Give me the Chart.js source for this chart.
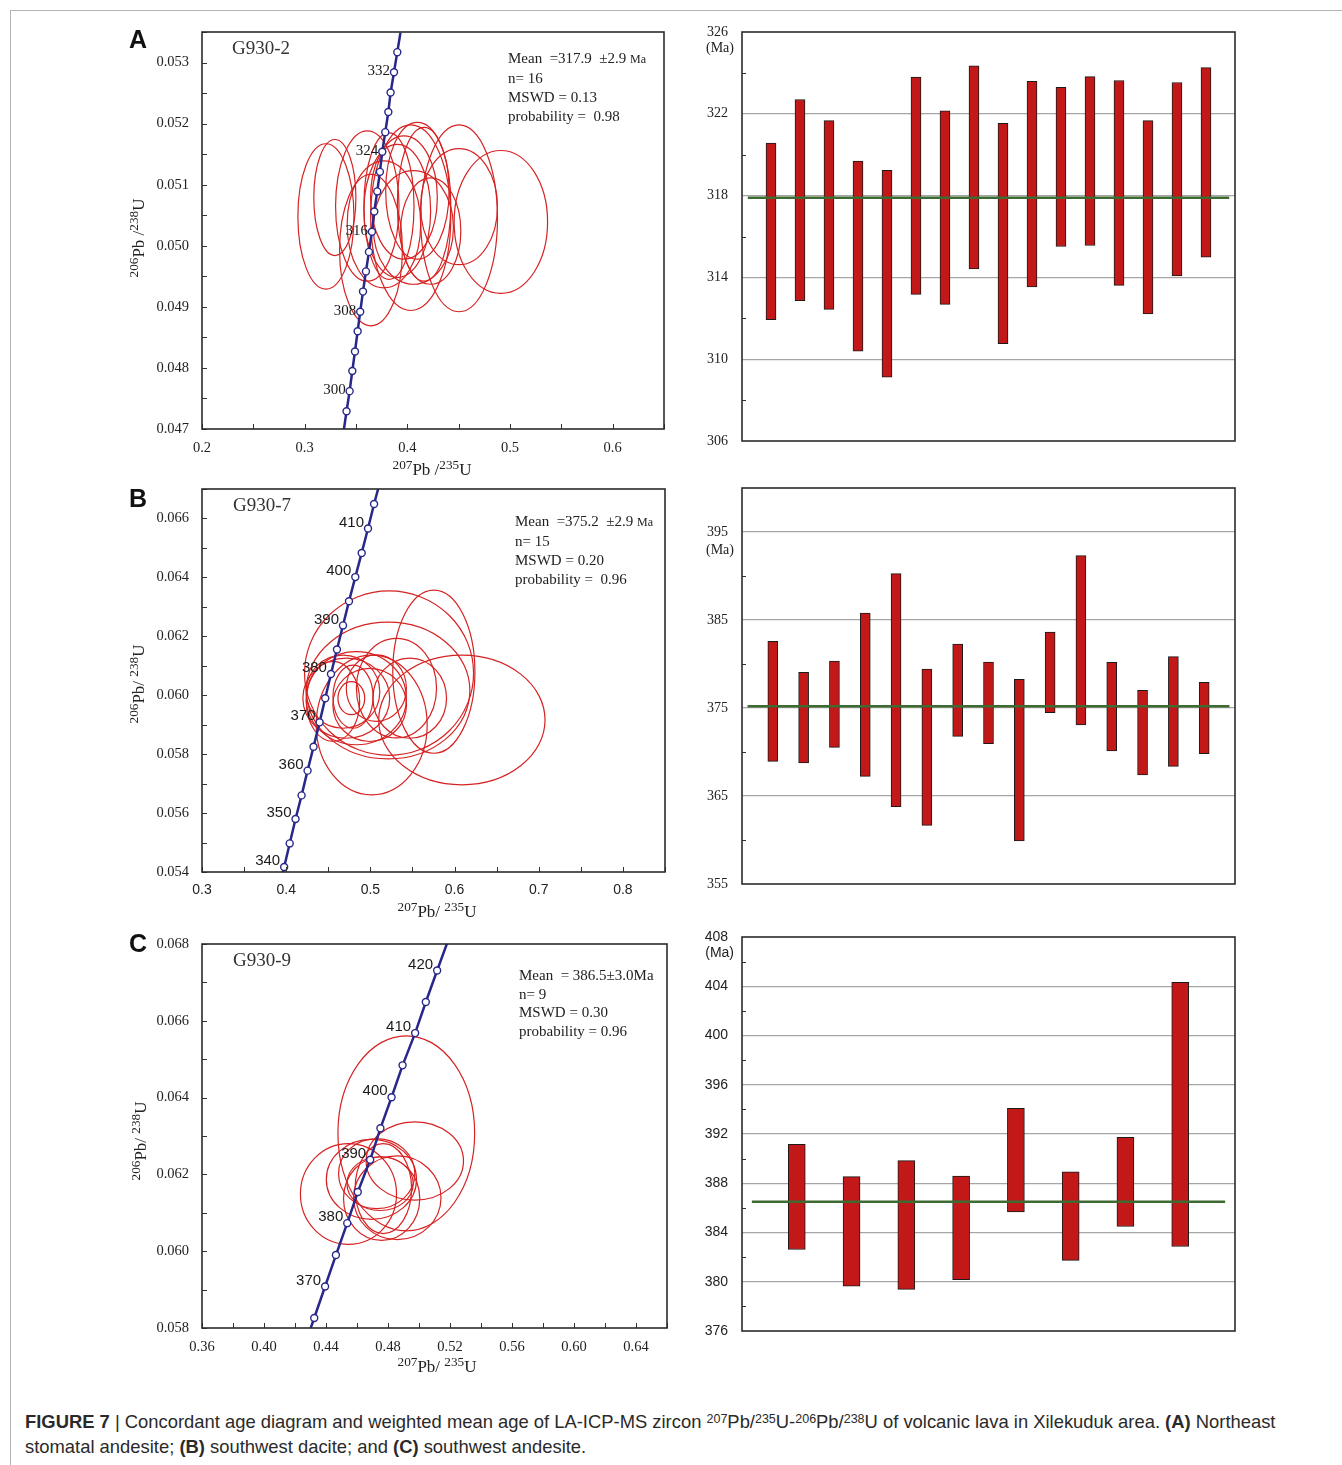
<!DOCTYPE html>
<html>
<head>
<meta charset="utf-8">
<title>Figure 7</title>
<script src="https://cdn.jsdelivr.net/npm/chart.js@4.4.1/dist/chart.umd.min.js"></script>
<style>
  html, body { margin: 0; padding: 0; background: #fff; }
  body { position: relative; width: 1342px; height: 1465px; overflow: hidden; font-family: "Liberation Serif", "Times New Roman", serif; color: #222; }
  .rule-top { position: absolute; left: 10px; top: 10px; width: 1332px; border-top: 1px solid #b5b5b5; }
  .rule-left { position: absolute; left: 10px; top: 10px; height: 1455px; border-left: 1px solid #b5b5b5; }
  canvas { position: absolute; }
  .letter { position: absolute; font: bold 25px "Liberation Sans", Arial, sans-serif; color: #111; line-height: 1; }
  .sample { position: absolute; font-size: 19px; line-height: 1; color: #333; }
  .stats { position: absolute; font-size: 15px; line-height: 19px; white-space: pre; color: #222; }
  .stats small { font-size: 12px; }
  .xt, .yt { position: absolute; font-size: 17px; line-height: 1; white-space: nowrap; color: #222; }
  .xt { transform: translate(-50%, -50%); }
  .yt { transform: translate(-50%, -50%) rotate(-90deg); }
  sup { font-size: 0.78em; vertical-align: 0.4em; line-height: 0; }
  .caption { position: absolute; left: 25px; top: 1409px; font: 18.4px "Liberation Sans", Arial, sans-serif; line-height: 25px; color: #2a2a2a; white-space: nowrap; }
  .caption sup { font-size: 0.68em; }
</style>
</head>
<body>
<div class="rule-top"></div>
<div class="rule-left"></div>

<canvas id="concA" width="545" height="488" style="left:140px;top:2px"></canvas>
<canvas id="barsA" width="570" height="469" style="left:680px;top:2px"></canvas>
<canvas id="concB" width="545" height="469" style="left:140px;top:459px"></canvas>
<canvas id="barsB" width="570" height="456" style="left:680px;top:458px"></canvas>
<canvas id="concC" width="545" height="458" style="left:140px;top:914px"></canvas>
<canvas id="barsC" width="570" height="454" style="left:680px;top:907px"></canvas>

<div class="letter" style="left:129px;top:27px">A</div>
<div class="letter" style="left:129px;top:486px">B</div>
<div class="letter" style="left:129px;top:931px">C</div>

<div class="sample" style="left:232px;top:38px">G930-2</div>
<div class="sample" style="left:233px;top:495px">G930-7</div>
<div class="sample" style="left:233px;top:950px">G930-9</div>

<div class="stats" style="left:508px;top:49px">Mean  =317.9  ±2.9 <small>Ma</small>
n= 16
MSWD = 0.13
probability =  0.98</div>
<div class="stats" style="left:515px;top:512px">Mean  =375.2  ±2.9 <small>Ma</small>
n= 15
MSWD = 0.20
probability =  0.96</div>
<div class="stats" style="left:519px;top:966px;line-height:18.7px">Mean  = 386.5±3.0Ma
n= 9
MSWD = 0.30
probability = 0.96</div>

<div class="xt" style="left:432px;top:469px"><sup>207</sup>Pb /<sup>235</sup>U</div>
<div class="yt" style="left:138px;top:238px"><sup>206</sup>Pb /<sup>238</sup>U</div>
<div class="xt" style="left:437px;top:911px"><sup>207</sup>Pb/ <sup>235</sup>U</div>
<div class="yt" style="left:138px;top:684px"><sup>206</sup>Pb/ <sup>238</sup>U</div>
<div class="xt" style="left:437px;top:1366px"><sup>207</sup>Pb/ <sup>235</sup>U</div>
<div class="yt" style="left:140px;top:1141px"><sup>206</sup>Pb/ <sup>238</sup>U</div>

<div class="caption"><b>FIGURE 7</b> | Concordant age diagram and weighted mean age of LA-ICP-MS zircon <sup>207</sup>Pb/<sup>235</sup>U-<sup>206</sup>Pb/<sup>238</sup>U of volcanic lava in Xilekuduk area. <b>(A)</b> Northeast<br>stomatal andesite; <b>(B)</b> southwest dacite; and <b>(C)</b> southwest andesite.</div>

<script>
// concordia curve markers (Ma) and their ratios
const agesA = [296, 298, 300, 302, 304, 306, 308, 310, 312, 314, 316, 318, 320, 322, 324, 326, 328, 330, 332, 334, 336];
const curveXA = [0.3380, 0.3408, 0.3438, 0.3464, 0.3490, 0.3516, 0.3541, 0.3568, 0.3597, 0.3626, 0.3655, 0.3678, 0.3707, 0.3733, 0.3756, 0.3785, 0.3815, 0.3837, 0.3870, 0.3902, 0.3933];
const curveYA = [0.04697, 0.04729, 0.04762, 0.04795, 0.04827, 0.04860, 0.04892, 0.04925, 0.04958, 0.04990, 0.05023, 0.05056, 0.05089, 0.05121, 0.05154, 0.05186, 0.05219, 0.05251, 0.05284, 0.05317, 0.05349];
const labelAgesA = [300, 308, 316, 324, 332];

const agesB = [335, 340, 345, 350, 355, 360, 365, 370, 375, 380, 385, 390, 395, 400, 405, 410, 415, 420];
const curveXB = [0.3911, 0.3976, 0.4042, 0.4111, 0.4183, 0.4254, 0.4325, 0.4397, 0.4464, 0.4532, 0.4603, 0.4675, 0.4746, 0.4821, 0.4897, 0.4972, 0.5044, 0.5121];
const curveYB = [0.05336, 0.05417, 0.05497, 0.05580, 0.05660, 0.05744, 0.05825, 0.05908, 0.05990, 0.06072, 0.06155, 0.06237, 0.06319, 0.06401, 0.06483, 0.06566, 0.06649, 0.06731];
const labelAgesB = [340, 350, 360, 370, 380, 390, 400, 410];

const agesC = [360, 365, 370, 375, 380, 385, 390, 395, 400, 405, 410, 415, 420, 425];
const curveXC = [0.4253, 0.4324, 0.4394, 0.4464, 0.4537, 0.4605, 0.4685, 0.4751, 0.4823, 0.4894, 0.4975, 0.5044, 0.5117, 0.5192];
const curveYC = [0.05744, 0.05826, 0.05908, 0.05990, 0.06073, 0.06154, 0.06238, 0.06320, 0.06401, 0.06484, 0.06568, 0.06649, 0.06731, 0.06814];
const labelAgesC = [370, 380, 390, 400, 410, 420];

// error ellipses: centre and half-widths in ratio units
const ellCxA = [0.3207, 0.3294, 0.3610, 0.3646, 0.3821, 0.3902, 0.4033, 0.4098, 0.4059, 0.3967, 0.4163, 0.4504, 0.4504, 0.4911, 0.3772, 0.4228];
const ellCyA = [0.05048, 0.05079, 0.05065, 0.04993, 0.05065, 0.05057, 0.05046, 0.05090, 0.05030, 0.05079, 0.05068, 0.05045, 0.05064, 0.05039, 0.05035, 0.05024];
const ellSxA = [0.0273, 0.0205, 0.0309, 0.0306, 0.0244, 0.0325, 0.0390, 0.0309, 0.0390, 0.0325, 0.0260, 0.0374, 0.0374, 0.0455, 0.0358, 0.0293];
const ellSyA = [0.00119, 0.00095, 0.00123, 0.00124, 0.00120, 0.00109, 0.00152, 0.00112, 0.00093, 0.00101, 0.00126, 0.00153, 0.00095, 0.00117, 0.00104, 0.00087];

const ellCxB = [0.6087, 0.5754, 0.5222, 0.5210, 0.5016, 0.4794, 0.4774, 0.4714, 0.4833, 0.4675, 0.4992, 0.5468, 0.5310, 0.4556, 0.5071];
const ellCyB = [0.05916, 0.06080, 0.06075, 0.06016, 0.05899, 0.05995, 0.05990, 0.05990, 0.05990, 0.06012, 0.05967, 0.05990, 0.06024, 0.05979, 0.06024];
const ellSxB = [0.0988, 0.0488, 0.1004, 0.0972, 0.0659, 0.0238, 0.0159, 0.0516, 0.0595, 0.0437, 0.0437, 0.0437, 0.0476, 0.0317, 0.0357];
const ellSyB = [0.00220, 0.00277, 0.00279, 0.00232, 0.00237, 0.00107, 0.00056, 0.00136, 0.00158, 0.00124, 0.00124, 0.00136, 0.00169, 0.00136, 0.00113];

const ellCxC = [0.4918, 0.4973, 0.4545, 0.4693, 0.4759, 0.4860, 0.4749, 0.4770, 0.4727];
const ellCyC = [0.06307, 0.06235, 0.06149, 0.06187, 0.06137, 0.06139, 0.06176, 0.06163, 0.06202];
const ellSxC = [0.0441, 0.0314, 0.0310, 0.0291, 0.0246, 0.0282, 0.0214, 0.0182, 0.0246];
const ellSyC = [0.00254, 0.00102, 0.00131, 0.00104, 0.00109, 0.00109, 0.00070, 0.00117, 0.00091];

// weighted mean plots: age ranges (Ma) per spot
const hiA = [320.57, 322.70, 321.67, 319.69, 319.24, 323.79, 322.15, 324.34, 321.53, 323.59, 323.30, 323.82, 323.63, 321.67, 323.53, 324.26];
const loA = [311.93, 312.86, 312.44, 310.39, 309.12, 313.17, 312.68, 314.41, 310.76, 313.53, 315.51, 315.56, 313.61, 312.21, 314.07, 314.99];
const meanA = 317.9;

const hiB = [382.58, 379.05, 380.34, 385.80, 390.27, 379.43, 382.27, 380.23, 378.26, 383.64, 392.31, 380.19, 377.01, 380.83, 377.92];
const loB = [368.94, 368.75, 370.53, 367.23, 363.79, 361.67, 371.78, 370.95, 359.89, 374.47, 373.07, 370.11, 367.39, 368.37, 369.81];
const meanB = 375.2;

const hiC = [391.16, 388.54, 389.84, 388.59, 394.08, 388.92, 391.73, 404.32];
const loC = [382.62, 379.65, 379.38, 380.16, 385.68, 381.73, 384.49, 382.86];
const meanC = 386.5;

const NAVY = '#27288a';
const ELL_RED = '#d62222';
const BAR_RED = '#c21818';
const GREEN = '#3d6b32';
const SERIF = '"Liberation Serif", "Times New Roman", serif';
const SANS = '"Liberation Sans", Arial, sans-serif';

function isMultiple(v, step) {
  const q = v / step;
  return Math.abs(q - Math.round(q)) < 1e-6;
}

function ellipsePlugin(cx, cy, sx, sy) {
  return {
    id: 'ellipses',
    beforeDatasetsDraw(chart) {
      const { ctx, chartArea: a } = chart;
      const xs = chart.scales.x, ys = chart.scales.y;
      ctx.save();
      ctx.beginPath();
      ctx.rect(a.left, a.top, a.right - a.left, a.bottom - a.top);
      ctx.clip();
      ctx.strokeStyle = ELL_RED;
      ctx.lineWidth = 1.2;
      cx.forEach((c, i) => {
        const px = xs.getPixelForValue(c);
        const py = ys.getPixelForValue(cy[i]);
        const rx = Math.abs(xs.getPixelForValue(c + sx[i]) - px);
        const ry = Math.abs(ys.getPixelForValue(cy[i] + sy[i]) - py);
        ctx.beginPath();
        ctx.ellipse(px, py, rx, ry, 0, 0, Math.PI * 2);
        ctx.stroke();
      });
      ctx.restore();
    }
  };
}

function framePlugin(o) {
  return {
    id: 'frame',
    afterDatasetsDraw(chart) {
      const { ctx, chartArea: a } = chart;
      ctx.save();
      ctx.strokeStyle = '#333';
      ctx.lineWidth = 1;
      if (o.xTick) {
        chart.scales.x.ticks.forEach(t => {
          const p = Math.round(chart.scales.x.getPixelForValue(t.value)) + 0.5;
          ctx.beginPath(); ctx.moveTo(p, a.bottom); ctx.lineTo(p, a.bottom - o.xTick); ctx.stroke();
        });
      }
      if (o.yTick) {
        const s = chart.scales.y;
        s.ticks.forEach(t => {
          if (o.minorOnly && (t.label !== '' || t.value === s.min || t.value === s.max)) return;
          const p = Math.round(s.getPixelForValue(t.value)) + 0.5;
          ctx.beginPath(); ctx.moveTo(a.left, p); ctx.lineTo(a.left + o.yTick, p); ctx.stroke();
        });
      }
      ctx.strokeStyle = '#2b2b2b';
      ctx.lineWidth = 1.6;
      ctx.strokeRect(a.left, a.top, a.right - a.left, a.bottom - a.top);
      ctx.restore();
    }
  };
}

function ageLabelPlugin(ages, labelled, font, dy) {
  return {
    id: 'ageLabels',
    afterDatasetsDraw(chart) {
      const meta = chart.getDatasetMeta(0);
      const ctx = chart.ctx;
      ctx.save();
      ctx.font = font;
      ctx.fillStyle = '#1a1a1a';
      ctx.textAlign = 'right';
      ctx.textBaseline = 'middle';
      ages.forEach((age, i) => {
        if (labelled.indexOf(age) < 0) return;
        const el = meta.data[i];
        ctx.fillText(String(age), el.x - 4, el.y + dy);
      });
      ctx.restore();
    }
  };
}

function unitPlugin(value, font, dy) {
  return {
    id: 'unit',
    afterDraw(chart) {
      const ctx = chart.ctx;
      ctx.save();
      ctx.font = font;
      ctx.fillStyle = '#222';
      ctx.textAlign = 'right';
      ctx.textBaseline = 'middle';
      ctx.fillText('(Ma)', chart.chartArea.left - 8, chart.scales.y.getPixelForValue(value) + dy);
      ctx.restore();
    }
  };
}

function concordiaChart(id, c) {
  const last = c.ages.length - 1;
  return new Chart(document.getElementById(id), {
    type: 'scatter',
    data: {
      datasets: [{
        data: c.xs.map((x, i) => ({ x: x, y: c.ys[i] })),
        showLine: true,
        borderColor: NAVY,
        borderWidth: 2.5,
        pointRadius: c.ages.map((a, i) => (i === 0 || i === last) ? 0 : 3.5),
        pointBackgroundColor: '#fff',
        pointBorderColor: NAVY,
        pointBorderWidth: 1.4,
        clip: 0
      }]
    },
    options: {
      responsive: false,
      animation: false,
      layout: { padding: { top: 30, right: c.padRight, left: 0, bottom: 0 } },
      plugins: { legend: { display: false }, tooltip: { enabled: false } },
      scales: {
        x: {
          type: 'linear', min: c.xMin, max: c.xMax,
          grid: { display: false, drawTicks: false },
          border: { display: false },
          ticks: {
            stepSize: c.xStep, autoSkip: false, maxRotation: 0, padding: 10,
            color: '#222', font: c.xFont,
            callback: v => isMultiple(v - c.xMin, c.xMajor) && v < c.xMax - 1e-9 ? v.toFixed(c.xDigits) : ''
          },
          afterFit: s => { s.height = c.xH; }
        },
        y: {
          type: 'linear', min: c.yMin, max: c.yMax,
          grid: { display: false, drawTicks: false },
          border: { display: false },
          ticks: {
            stepSize: c.yStep, autoSkip: false, padding: 13,
            color: '#222', font: { family: SERIF, size: 14.5 },
            callback: v => isMultiple(v - c.yMin, c.yMajor) ? v.toFixed(3) : ''
          },
          afterFit: s => { s.width = 62; }
        }
      }
    },
    plugins: [
      ellipsePlugin(c.ell[0], c.ell[1], c.ell[2], c.ell[3]),
      framePlugin({ xTick: 5, yTick: 5 }),
      ageLabelPlugin(c.ages, c.labels, c.labelFont, c.labelDy)
    ]
  });
}

function meanChart(id, c) {
  const n = c.lo.length;
  return new Chart(document.getElementById(id), {
    type: 'bar',
    data: {
      datasets: [
        {
          type: 'line',
          data: [{ x: c.lineFrom, y: c.mean }, { x: n + 1 - c.lineFrom, y: c.mean }],
          borderColor: GREEN,
          borderWidth: 2.5,
          pointRadius: 0,
          order: 0
        },
        {
          type: 'bar',
          data: c.lo.map((lo, i) => ({ x: i + 1, y: [lo, c.hi[i]] })),
          backgroundColor: BAR_RED,
          borderColor: '#1a1a1a',
          borderWidth: 1,
          borderSkipped: false,
          barThickness: c.barW,
          order: 1
        }
      ]
    },
    options: {
      responsive: false,
      animation: false,
      layout: { padding: { top: 30, right: 15, left: 0, bottom: 0 } },
      plugins: { legend: { display: false }, tooltip: { enabled: false } },
      scales: {
        x: {
          type: 'linear', min: 0, max: n + 1, offset: false,
          grid: { display: false, drawTicks: false },
          border: { display: false },
          ticks: { display: false },
          afterFit: s => { s.height = 30; }
        },
        y: {
          type: 'linear', min: c.yMin, max: c.yMax,
          border: { display: false },
          grid: {
            drawTicks: false,
            lineWidth: 1.2,
            color: ctx => (ctx.tick && ctx.tick.label !== '' && ctx.tick.value > c.yMin && ctx.tick.value < c.yMax) ? '#a6a6a6' : 'rgba(0,0,0,0)'
          },
          ticks: {
            stepSize: c.yStep, autoSkip: false, padding: 14,
            color: '#222', font: c.font,
            callback: v => isMultiple(v - c.yMin, c.yMajor) && !(v === c.yMax && !c.topLabel) ? String(v) : ''
          },
          afterFit: s => { s.width = 62; }
        }
      }
    },
    plugins: [
      framePlugin({ yTick: 4, minorOnly: true }),
      unitPlugin(c.unitAt, (c.font.size) + 'px ' + c.font.family, c.unitDy)
    ]
  });
}

concordiaChart('concA', {
  ages: agesA, xs: curveXA, ys: curveYA, labels: labelAgesA,
  ell: [ellCxA, ellCyA, ellSxA, ellSyA],
  xMin: 0.2, xMax: 0.65, xStep: 0.05, xMajor: 0.1, xDigits: 1,
  yMin: 0.047, yMax: 0.0535, yStep: 0.0005, yMajor: 0.001,
  xFont: { family: SERIF, size: 14.5 },
  labelFont: '15px ' + SERIF, labelDy: -1,
  xH: 61, padRight: 21
});

concordiaChart('concB', {
  ages: agesB, xs: curveXB, ys: curveYB, labels: labelAgesB,
  ell: [ellCxB, ellCyB, ellSxB, ellSyB],
  xMin: 0.3, xMax: 0.85, xStep: 0.05, xMajor: 0.1, xDigits: 1,
  yMin: 0.054, yMax: 0.067, yStep: 0.001, yMajor: 0.002,
  xFont: { family: SANS, size: 14 },
  labelFont: '15px ' + SANS, labelDy: -6,
  xH: 56, padRight: 20
});

concordiaChart('concC', {
  ages: agesC, xs: curveXC, ys: curveYC, labels: labelAgesC,
  ell: [ellCxC, ellCyC, ellSxC, ellSyC],
  xMin: 0.36, xMax: 0.66, xStep: 0.02, xMajor: 0.04, xDigits: 2,
  yMin: 0.058, yMax: 0.068, yStep: 0.001, yMajor: 0.002,
  xFont: { family: SERIF, size: 14.5 },
  labelFont: '15px ' + SANS, labelDy: -6,
  xH: 44, padRight: 18
});

meanChart('barsA', {
  lo: loA, hi: hiA, mean: meanA, lineFrom: 0.2, barW: 10,
  yMin: 306, yMax: 326, yStep: 2, yMajor: 4, topLabel: true,
  font: { family: SERIF, size: 14 }, unitAt: 326, unitDy: 16
});

meanChart('barsB', {
  lo: loB, hi: hiB, mean: meanB, lineFrom: 0.18, barW: 10,
  yMin: 355, yMax: 400, yStep: 5, yMajor: 10, topLabel: false,
  font: { family: SERIF, size: 14 }, unitAt: 395, unitDy: 18
});

meanChart('barsC', {
  lo: loC, hi: hiC, mean: meanC, lineFrom: 0.18, barW: 17,
  yMin: 376, yMax: 408, yStep: 2, yMajor: 4, topLabel: true,
  font: { family: SANS, size: 14 }, unitAt: 408, unitDy: 16
});
</script>
</body>
</html>
